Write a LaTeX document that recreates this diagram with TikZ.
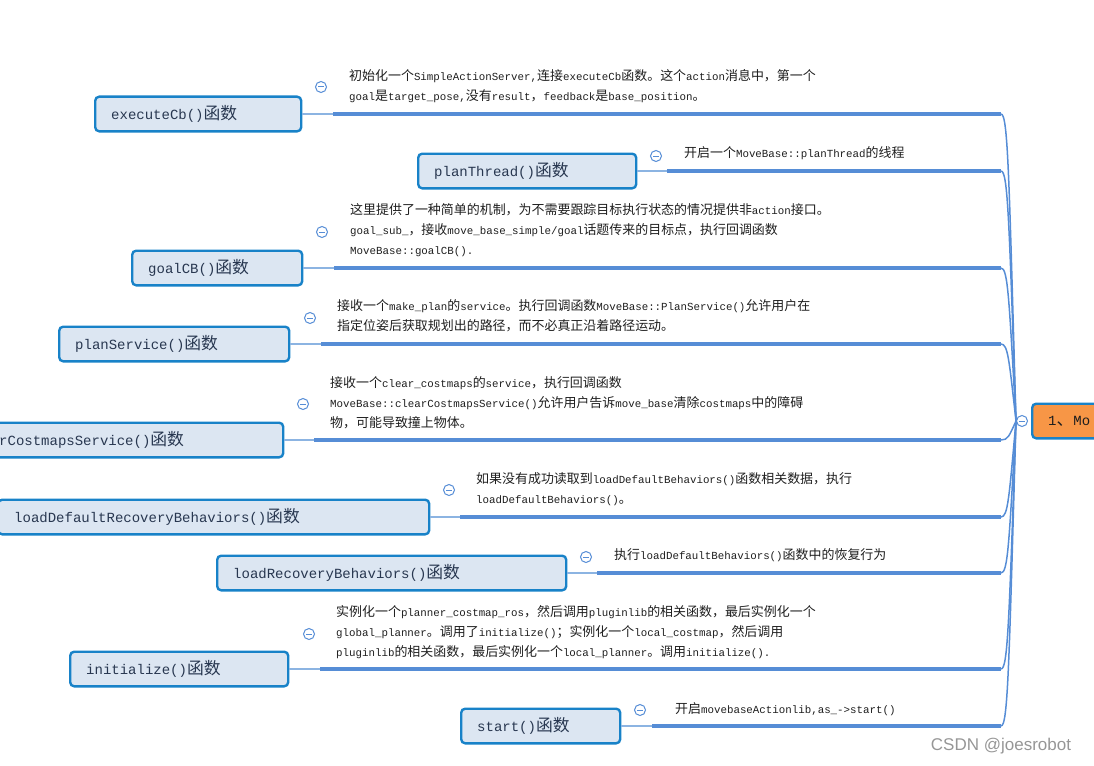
\documentclass[tikz,border=0pt]{standalone}
\usepackage{fontspec}
\usepackage{xcolor}
\setmainfont{Liberation Mono}
\newfontfamily\cjk[Scale=1.2]{Noto Sans CJK SC}
\newfontfamily\wmfont{Liberation Sans}
\usetikzlibrary{calc}
\definecolor{boxblue}{RGB}{24,130,200}
\definecolor{boxfill}{RGB}{220,230,242}
\definecolor{lineblue}{RGB}{86,141,214}
\definecolor{thinblue}{RGB}{140,180,226}
\definecolor{rootorange}{RGB}{247,150,70}
\definecolor{desctext}{RGB}{30,30,30}
\definecolor{boxtext}{RGB}{40,55,80}
\definecolor{wmgray}{RGB}{150,150,150}

% CJK characters switch to \cjk on their own
\newXeTeXintercharclass\cjkcls
\makeatletter
\def\setcjkrange#1#2{\count@=#1\relax
  \loop\ifnum\count@<#2\relax\XeTeXcharclass\count@=\cjkcls\advance\count@\@ne\repeat}
\setcjkrange{"3000}{"3040}
\setcjkrange{"4E00}{"A000}
\setcjkrange{"FF00}{"FFF0}
\count@=0
\loop\ifnum\count@<16\relax
  \ifnum\count@=\cjkcls\else
    \XeTeXinterchartoks\count@\cjkcls={\cjk}%
    \XeTeXinterchartoks\cjkcls\count@={\rmfamily}%
  \fi
  \advance\count@\@ne\repeat
\XeTeXinterchartoks 4095 \cjkcls={\cjk}
\XeTeXinterchartoks \cjkcls 4095={\rmfamily}
\makeatother
\XeTeXinterchartokenstate=1

\begin{document}
\begin{tikzpicture}[x=1pt, y=-1pt,
  fbox/.style={draw=boxblue, line width=2.4pt, rounded corners=4pt, fill=boxfill,
               text=boxtext, font=\fontsize{14}{16}\selectfont, minimum height=34.6pt,
               inner xsep=16pt, anchor=west, align=left, text width=#1},
  desc/.style={anchor=west, inner sep=0pt, align=left, text=desctext,
               font=\fontsize{10.8}{20}\selectfont},
  dot/.style={circle, draw=lineblue, line width=1pt, fill=white, minimum size=11pt,
              inner sep=0pt, path picture={\draw[lineblue, line width=1pt]
              ([xshift=-3pt]path picture bounding box.center) --
              ([xshift=3pt]path picture bounding box.center);}},
  link/.style={thinblue, line width=1.2pt},
  branch/.style={lineblue, line width=4pt},
  trunk/.style={lineblue, line width=1.5pt}]
  \useasboundingbox (0,0) rectangle (1094,765);
  \clip (0,0) rectangle (1094,765);

  % root
  \node[fbox=100pt, fill=rootorange, text=desctext] (root) at (1031,421) {1、Mo};
  \node[dot] (rootDot) at (1022,421) {};
  \coordinate (hub) at (rootDot.west);

  % executeCb
  \node[fbox=174pt] (exec) at (94,114) {executeCb()函数};
  \coordinate (exec-start) at (333,114);
  \coordinate (exec-end) at (1001,114);
  \node[dot] (execDot) at (321,87) {};
  \node[desc] (execTxt) at (349,86.5)
    {初始化一个SimpleActionServer,连接executeCb函数。这个action消息中，第一个\\
     goal是target\_pose,没有result，feedback是base\_position。};

  % planThread
  \node[fbox=186pt] (thread) at (417,171) {planThread()函数};
  \coordinate (thread-start) at (667,171);
  \coordinate (thread-end) at (1001,171);
  \node[dot] (threadDot) at (656,156) {};
  \node[desc] (threadTxt) at (684,153) {开启一个MoveBase::planThread的线程};

  % goalCB
  \node[fbox=138pt] (goal) at (131,268) {goalCB()函数};
  \coordinate (goal-start) at (334,268);
  \coordinate (goal-end) at (1001,268);
  \node[dot] (goalDot) at (322,232) {};
  \node[desc] (goalTxt) at (350,230)
    {这里提供了一种简单的机制，为不需要跟踪目标执行状态的情况提供非action接口。\\
     goal\_sub\_，接收move\_base\_simple/goal话题传来的目标点，执行回调函数\\
     MoveBase::goalCB().};

  % planService
  \node[fbox=198pt] (plan) at (58,344) {planService()函数};
  \coordinate (plan-start) at (321,344);
  \coordinate (plan-end) at (1001,344);
  \node[dot] (planDot) at (310,318) {};
  \node[desc] (planTxt) at (337,316)
    {接收一个make\_plan的service。执行回调函数MoveBase::PlanService()允许用户在\\
     指定位姿后获取规划出的路径，而不必真正沿着路径运动。};

  % clearCostmapsService
  \node[fbox=268pt] (clear) at (-18,440) {rCostmapsService()函数};
  \coordinate (clear-start) at (314,440);
  \coordinate (clear-end) at (1001,440);
  \node[dot] (clearDot) at (303,404) {};
  \node[desc] (clearTxt) at (330,402.5)
    {接收一个clear\_costmaps的service，执行回调函数\\
     MoveBase::clearCostmapsService()允许用户告诉move\_base清除costmaps中的障碍\\
     物，可能导致撞上物体。};

  % loadDefaultRecoveryBehaviors
  \node[fbox=399pt] (loadDef) at (-3,517) {loadDefaultRecoveryBehaviors()函数};
  \coordinate (loadDef-start) at (460,517);
  \coordinate (loadDef-end) at (1001,517);
  \node[dot] (loadDefDot) at (449,490) {};
  \node[desc] (loadDefTxt) at (476,489)
    {如果没有成功读取到loadDefaultBehaviors()函数相关数据，执行\\
     loadDefaultBehaviors()。};

  % loadRecoveryBehaviors
  \node[fbox=317pt] (loadRec) at (216,573) {loadRecoveryBehaviors()函数};
  \coordinate (loadRec-start) at (597,573);
  \coordinate (loadRec-end) at (1001,573);
  \node[dot] (loadRecDot) at (586,557) {};
  \node[desc] (loadRecTxt) at (614,555) {执行loadDefaultBehaviors()函数中的恢复行为};

  % initialize
  \node[fbox=186pt] (init) at (69,669) {initialize()函数};
  \coordinate (init-start) at (320,669);
  \coordinate (init-end) at (1001,669);
  \node[dot] (initDot) at (309,634) {};
  \node[desc] (initTxt) at (336,632)
    {实例化一个planner\_costmap\_ros，然后调用pluginlib的相关函数，最后实例化一个\\
     global\_planner。调用了initialize()；实例化一个local\_costmap，然后调用\\
     pluginlib的相关函数，最后实例化一个local\_planner。调用initialize().};

  % start
  \node[fbox=127pt] (start) at (460,726) {start()函数};
  \coordinate (start-start) at (652,726);
  \coordinate (start-end) at (1001,726);
  \node[dot] (startDot) at (640,710) {};
  \node[desc] (startTxt) at (675,709) {开启movebaseActionlib,as\_->start()};

  % branches
  \foreach \n in {exec,thread,goal,plan,clear,loadDef,loadRec,init,start}{
    \draw[link] (\n.east) -- (\n-start);
    \draw[branch] (\n-start) -- (\n-end);
    \draw[trunk] (\n-end) .. controls +(7,0) and ($(\n-end)!0.2!(hub)+(5,0)$) .. (hub);
  }

  \node[text=wmgray, font=\wmfont\fontsize{17}{20}\selectfont] (mark) at (1001,746)
    {CSDN @joesrobot};
\end{tikzpicture}
\end{document}
